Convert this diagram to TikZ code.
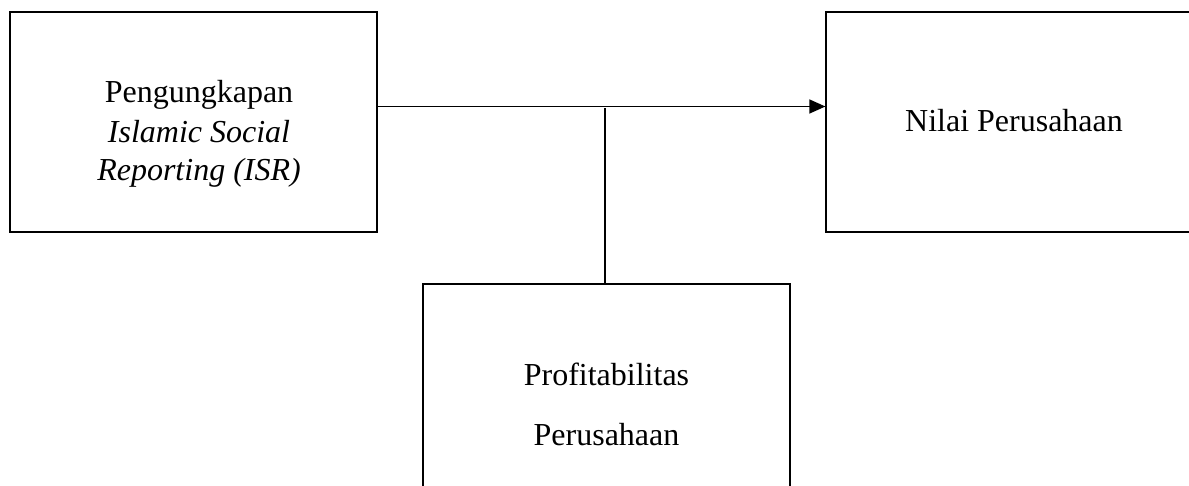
\documentclass[tikz,border=0pt]{standalone}
\usepackage{fontspec}
\setmainfont{Liberation Serif}
\usetikzlibrary{arrows.meta}
\begin{document}
\begin{tikzpicture}[x=1pt,y=-1pt,
  box/.style={draw, line width=1.2pt, rectangle, inner sep=0pt},
  txt/.style={anchor=base, inner sep=0pt, font=\fontsize{32}{38}\selectfont},
  conn/.style={line width=1.2pt}]
\useasboundingbox (0,0) rectangle (1189,486);
\clip (0,0) rectangle (1189,486);
\node[box, minimum width=367pt, minimum height=220pt] (isr) at (193.5,122) {};
\node[box, minimum width=374pt, minimum height=220pt] (nilai) at (1013,122) {};
\node[box, minimum width=367pt, minimum height=220pt] (prof) at (606.5,394) {};
\node[txt] (t1) at (199,103) {Pengungkapan};
\node[txt] (t2) at (199,143) {\itshape Islamic Social};
\node[txt] (t3) at (199,181) {\itshape Reporting (ISR)};
\node[txt] (t4) at (1014,132) {Nilai Perusahaan};
\node[txt] (t5) at (606.5,385) {Profitabilitas};
\node[txt] (t6) at (606.5,445) {Perusahaan};
\coordinate (j) at (605,106.5);
\draw[conn, -{Triangle[length=16pt,width=14pt]}] (isr.east |- j) -- (nilai.west |- j);
\draw[conn] ([yshift=-2pt]j) -- (j |- prof.north);
\end{tikzpicture}
\end{document}
